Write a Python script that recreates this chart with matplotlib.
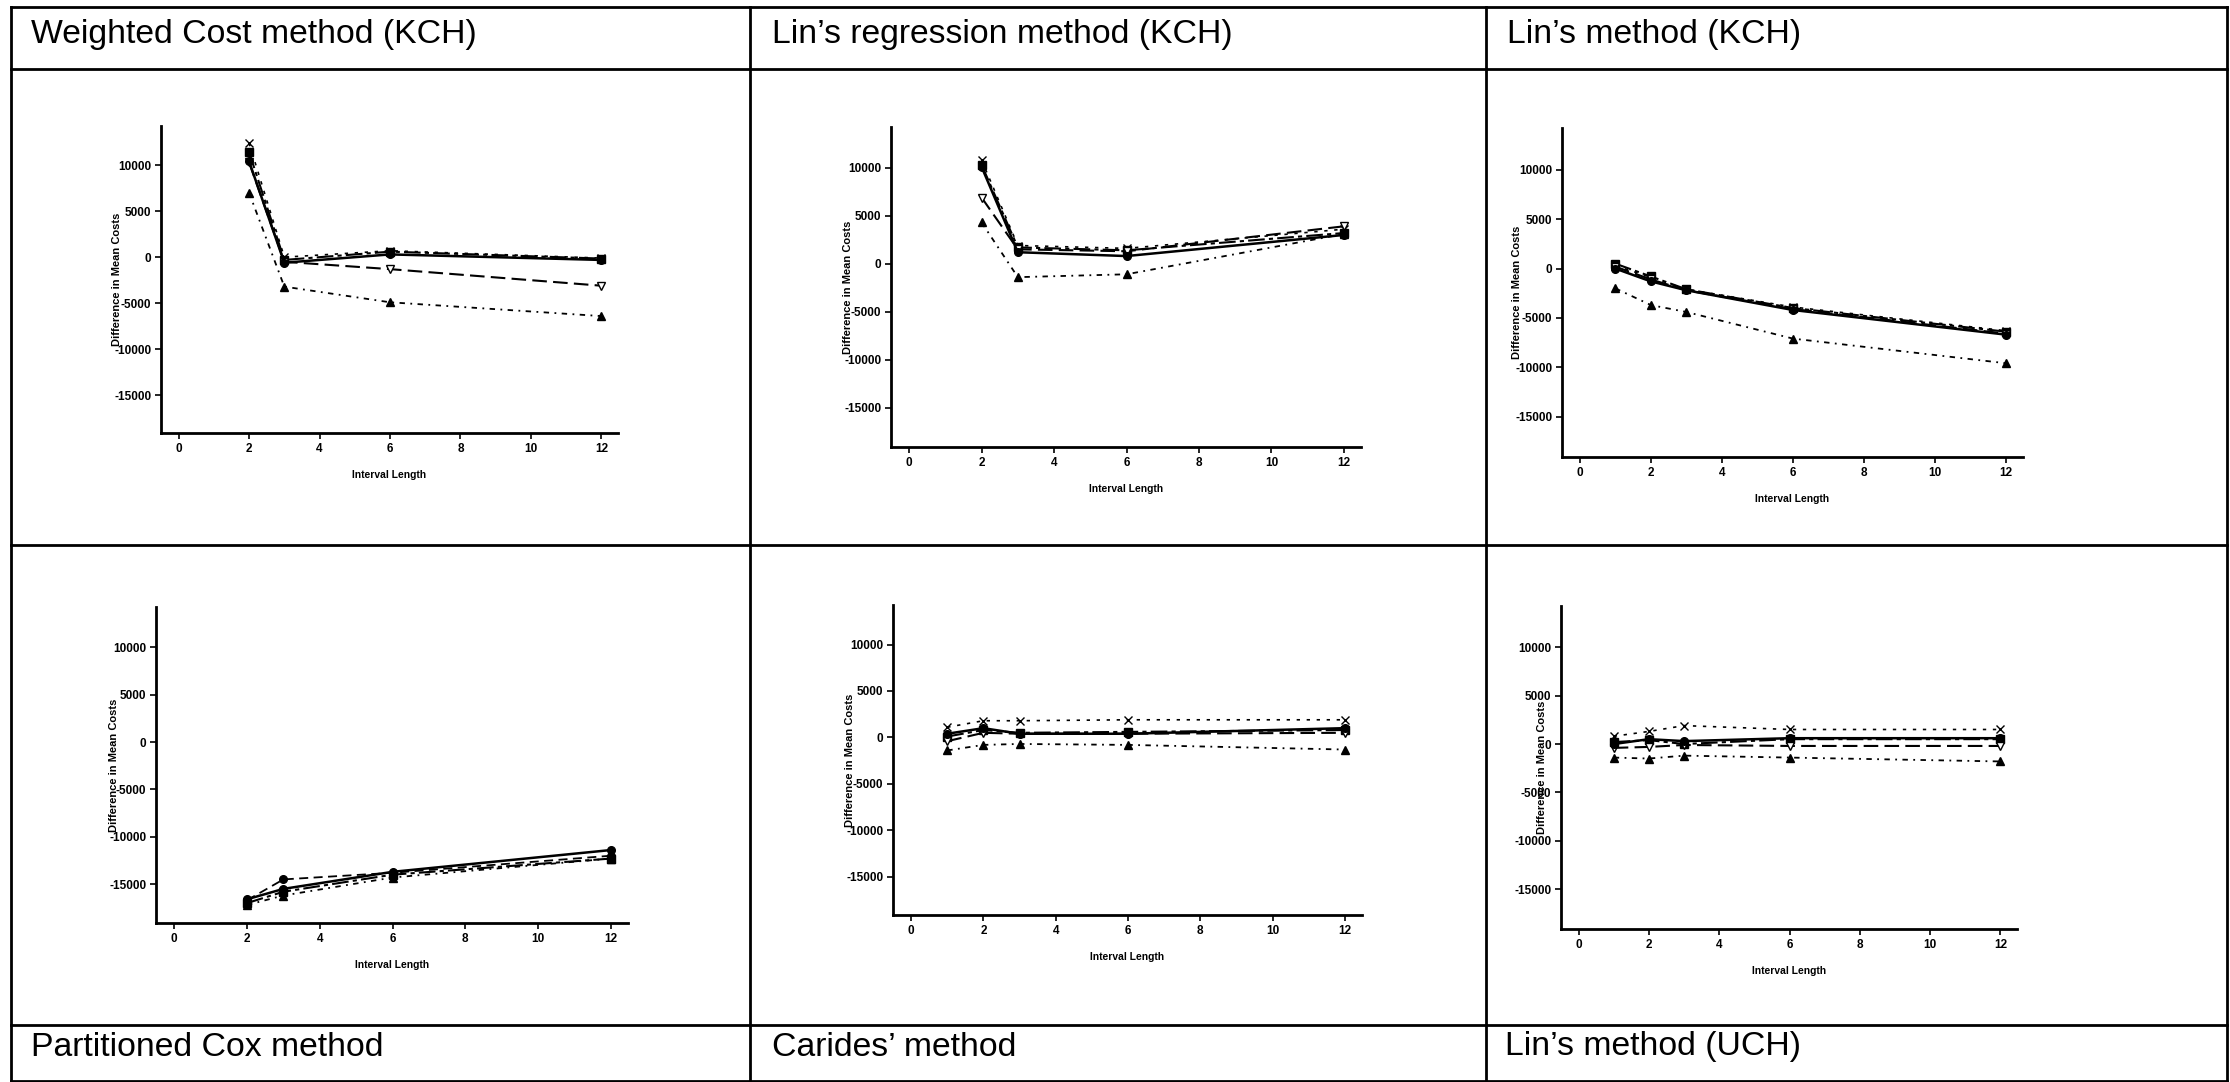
import matplotlib
matplotlib.use("Agg")
import matplotlib.pyplot as plt
from matplotlib.lines import Line2D

plt.rcParams['font.family'] = ['Liberation Sans', 'DejaVu Sans']

W, H = 2230, 1082

# ---------------- data ----------------
titles_top = ["Weighted Cost method (KCH)", "Lin\u2019s regression method (KCH)", "Lin\u2019s method (KCH)"]
titles_bottom = ["Partitioned Cox method", "Carides\u2019 method", "Lin\u2019s method (UCH)"]

x_kch4 = [2, 3, 6, 12]
x_kch5 = [1, 2, 3, 6, 12]

# Weighted Cost method (KCH)
wc_circle = [10400, -600, 300, -300]
wc_square = [11400, -300, 600, -150]
wc_invtri = [10300, -500, -1300, -3100]
wc_tri = [7000, -3200, -4900, -6400]
wc_cross = [12400, 0, 700, -100]

# Lin's regression method (KCH)
lr_circle = [10100, 1200, 800, 3000]
lr_square = [10300, 1700, 1400, 3200]
lr_invtri = [6900, 1500, 1300, 3900]
lr_tri = [4300, -1400, -1100, 3100]
lr_cross = [10800, 1900, 1600, 3600]

# Lin's method (KCH)
lk_circle = [0, -1300, -2200, -4200, -6700]
lk_square = [500, -800, -2100, -4000, -6400]
lk_invtri = [200, -1100, -2200, -4100, -6600]
lk_tri = [-2000, -3700, -4400, -7100, -9600]
lk_cross = [300, -900, -2100, -3900, -6300]

# Partitioned Cox method
pc_circle = [-16600, -15500, -13700, -11400]
pc_square = [-17000, -15800, -14000, -12300]
pc_tri = [-17200, -16200, -14300, -12300]
pc_dot = [-16700, -14500, -13800, -12000]

# Carides' method
ca_circle = [400, 1000, 400, 400, 1000]
ca_square = [100, 800, 500, 600, 800]
ca_invtri = [-400, 500, 400, 400, 500]
ca_tri = [-1400, -800, -700, -800, -1300]
ca_cross = [1100, 1800, 1800, 1900, 1900]

# Lin's method (UCH)
lu_circle = [0, 500, 300, 600, 600]
lu_square = [200, 400, 0, 500, 500]
lu_invtri = [-400, -300, -100, -200, -200]
lu_tri = [-1400, -1500, -1200, -1400, -1800]
lu_cross = [800, 1300, 1900, 1500, 1500]

xticks = [0, 2, 4, 6, 8, 10, 12]
yticks = [-15000, -10000, -5000, 0, 5000, 10000]
xlabel = "Interval Length"
ylabel = "Difference in Mean Costs"

# ---------------- styles ----------------
STY = {
    'circle': dict(ls='-', marker='o', mfc='black', lw=1.8),
    'square': dict(ls=(0, (8, 2, 2, 2)), marker='s', mfc='black', lw=1.5),
    'invtri': dict(ls=(0, (7, 3)), marker='v', mfc='white', lw=1.5),
    'tri': dict(ls=(0, (3, 3, 1, 3)), marker='^', mfc='black', lw=1.3),
    'cross': dict(ls=(0, (2, 4)), marker='x', mfc='black', lw=1.2),
    'dot': dict(ls=(0, (5, 3)), marker='o', mfc='black', lw=1.3),
}

panels = [
    # (rect px: left, top, right, bottom), x, series, ylabel x offset in px
    ((161, 126, 618, 433), x_kch4,
     [('cross', wc_cross), ('square', wc_square), ('invtri', wc_invtri), ('tri', wc_tri), ('circle', wc_circle)], 39),
    ((891, 127, 1361, 447), x_kch4,
     [('cross', lr_cross), ('square', lr_square), ('invtri', lr_invtri), ('tri', lr_tri), ('circle', lr_circle)], 38),
    ((1562, 128, 2023, 457), x_kch5,
     [('cross', lk_cross), ('square', lk_square), ('invtri', lk_invtri), ('tri', lk_tri), ('circle', lk_circle)], 40),
    ((156, 607, 628, 923), x_kch4,
     [('dot', pc_dot), ('tri', pc_tri), ('square', pc_square), ('circle', pc_circle)], 37),
    ((893, 605, 1362, 915), x_kch5,
     [('cross', ca_cross), ('square', ca_square), ('invtri', ca_invtri), ('tri', ca_tri), ('circle', ca_circle)], 38),
    ((1561, 606, 2017, 929), x_kch5,
     [('cross', lu_cross), ('square', lu_square), ('invtri', lu_invtri), ('tri', lu_tri), ('circle', lu_circle)], 14),
]

fig = plt.figure(figsize=(W / 100, H / 100), dpi=100)
fig.patch.set_facecolor('white')

for (l, t, r, b), xs, series, yoff in panels:
    ax = fig.add_axes([l / W, 1 - b / H, (r - l) / W, (b - t) / H])
    for name, ys in series:
        s = STY[name]
        ax.plot(xs, ys, color='black', linestyle=s['ls'], lw=s['lw'],
                marker=s['marker'], markersize=5.5, markerfacecolor=s['mfc'],
                markeredgecolor='black', markeredgewidth=1.0)
    ax.set_xlim(-0.5, 12.47)
    ax.set_ylim(-19100, 14250)
    ax.set_xticks(xticks)
    ax.set_yticks(yticks)
    ax.set_xticklabels([str(v) for v in xticks], fontsize=8.5, fontweight='bold')
    ax.set_yticklabels([str(v) for v in yticks], fontsize=8.5, fontweight='bold')
    ax.tick_params(direction='out', length=4, width=1.2, pad=3)
    for sp in ['top', 'right']:
        ax.spines[sp].set_visible(False)
    for sp in ['left', 'bottom']:
        ax.spines[sp].set_linewidth(2)
    ax.set_xlabel(xlabel, fontsize=7.4, fontweight='bold', labelpad=11)
    ax.set_ylabel(ylabel, fontsize=8, fontweight='bold')
    ax.yaxis.set_label_coords(-yoff / (r - l), 0.5)
    ax.patch.set_alpha(0)

# ---------------- table frame ----------------
def hline(y, x0=11, x1=2227, lw=2):
    fig.add_artist(Line2D([x0 / W, x1 / W], [1 - y / H, 1 - y / H], color='black', lw=lw))

def vline(x, y0=7, y1=1081, lw=2):
    fig.add_artist(Line2D([x / W, x / W], [1 - y0 / H, 1 - y1 / H], color='black', lw=lw))

for y in [7, 69, 545, 1025, 1081]:
    hline(y)
for x in [11, 750, 1486, 2227]:
    vline(x)

for xt, txt in zip([31, 772, 1507], titles_top):
    fig.text(xt / W, 1 - 34 / H, txt, fontsize=24.3, va='center', ha='left')
for xt, txt in zip([31, 772, 1505], titles_bottom):
    fig.text(xt / W, 1 - 1047 / H, txt, fontsize=24.3, va='center', ha='left')

fig.savefig('out.png', dpi=100, facecolor='white')
